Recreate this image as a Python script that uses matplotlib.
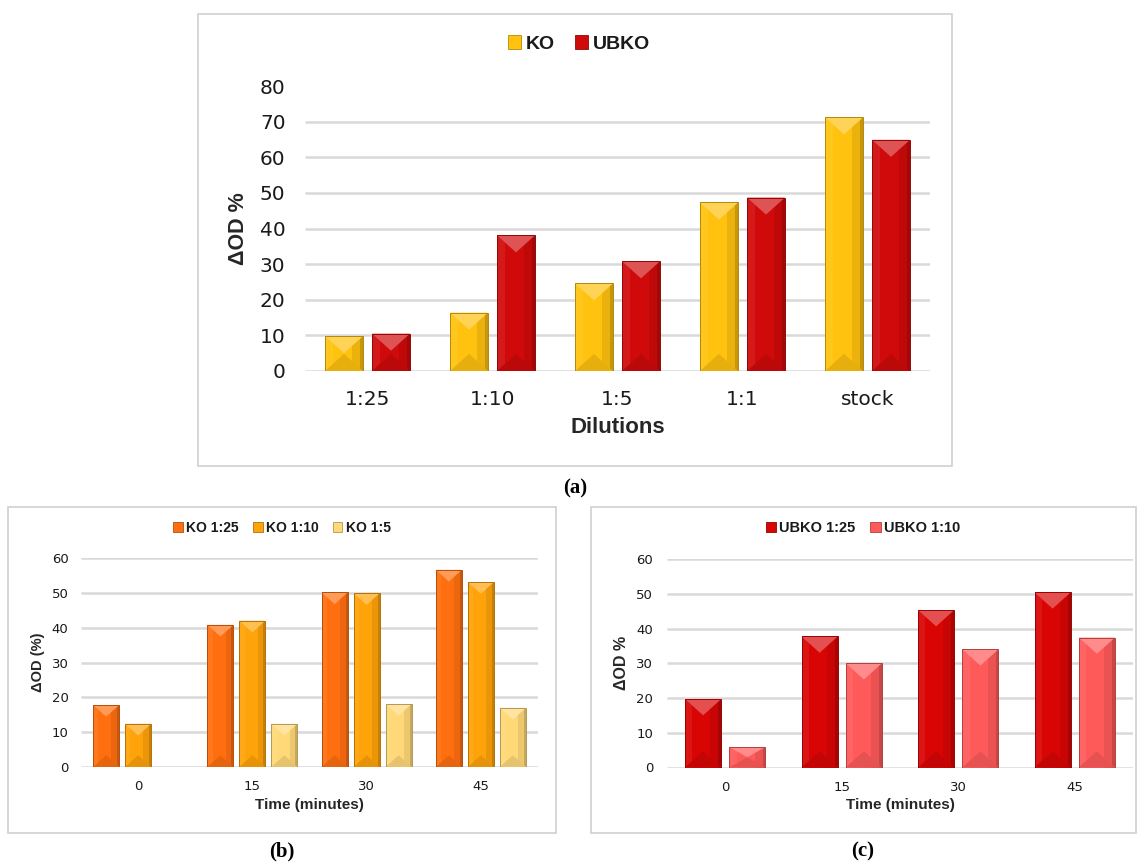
import matplotlib
matplotlib.use('Agg')
import matplotlib.pyplot as plt
import matplotlib.colors as mcolors
from matplotlib.patches import Polygon, Rectangle, Patch
from matplotlib.font_manager import FontProperties
import numpy as np

W, H = 1137, 864

# panel (a): dilutions
dilutions = ['1:25', '1:10', '1:5', '1:1', 'stock']
ko_a = [9.8, 16.4, 24.6, 47.3, 71.2]
ubko_a = [10.5, 38.1, 30.8, 48.7, 64.9]

# panel (b)/(c): time course
times = ['0', '15', '30', '45']
ko_125 = [17.8, 40.8, 50.1, 56.6]
ko_110 = [12.4, 42.0, 49.9, 53.1]
ko_15 = [np.nan, 12.4, 18.1, 17.0]   # no bar at 0 min
ubko_125 = [19.7, 37.7, 45.3, 50.4]
ubko_110 = [5.9, 30.0, 34.0, 37.4]

YELLOW = '#FFC20E'
RED = '#D00A0A'
ORANGE = '#FF6F0F'
AMBER = '#FFA30A'
PALE = '#FFD978'
RED2 = '#D90505'
PINK = '#FF5A5A'

GRID = '#D9D9D9'
TICK_FONT = 'DejaVu Sans'
LABEL_FONT = 'Liberation Sans'


def fx(px):
    return px / W


def fy(py):
    return 1 - py / H


def shade(c, f):
    rgb = np.array(mcolors.to_rgb(c))
    if f > 0:
        rgb = rgb + (1 - rgb) * f
    else:
        rgb = rgb * (1 + f)
    return tuple(np.clip(rgb, 0, 1))


# fake the excel "bevel" look: light top triangle, darker right edge
def bevel(ax, bars, color):
    bb = ax.get_window_extent()
    x0, x1 = ax.get_xlim()
    y0, y1 = ax.get_ylim()
    sx = bb.width / (x1 - x0)
    sy = bb.height / (y1 - y0)
    for r in bars:
        h = r.get_height()
        if not np.isfinite(h) or h <= 0:
            continue
        x, w = r.get_x(), r.get_width()
        # side bands
        ax.add_patch(Rectangle((x, 0), 0.2 * w, h, fc=shade(color, 0.06), lw=0, zorder=3))
        ax.add_patch(Rectangle((x + 0.7 * w, 0), 0.3 * w, h, fc=shade(color, -0.08), lw=0, zorder=3))
        ax.add_patch(Rectangle((x + 0.92 * w, 0), 0.08 * w, h, fc=shade(color, -0.22), lw=0, zorder=3))
        # top / bottom triangles
        d = min(0.45 * w * sx, 0.5 * h * sy) / sy
        ax.add_patch(Polygon([(x, h), (x + w, h), (x + w / 2, h - d)], closed=True,
                             fc=shade(color, 0.3), lw=0, zorder=3))
        ax.add_patch(Polygon([(x, 0), (x + w, 0), (x + w / 2, d)], closed=True,
                             fc=shade(color, -0.1), lw=0, zorder=3))
        ax.add_patch(Rectangle((x, 0), w, h, fill=False, ec=shade(color, -0.3), lw=0.7, zorder=4))


def frame(x0, y0, x1, y1):
    fig.add_artist(Rectangle((fx(x0), fy(y1)), (x1 - x0) / W, (y1 - y0) / H,
                             transform=fig.transFigure, fill=False, ec='#D0D0D0', lw=1.2))


def make_axes(left, top, right, bottom):
    ax = fig.add_axes([fx(left), fy(bottom), (right - left) / W, (bottom - top) / H])
    for s in ax.spines.values():
        s.set_visible(False)
    ax.tick_params(length=0)
    ax.set_axisbelow(True)
    return ax


def grouped(ax, cats, series, colors, width, step, ymax, ystep, tsize, pad, draw_top=True):
    n = len(series)
    x = np.arange(len(cats))
    ax.set_xlim(-0.5, len(cats) - 0.5)
    ax.set_ylim(0, ymax)
    yt = np.arange(0, ymax + 1, ystep)
    ax.set_yticks(yt)
    gl = yt if draw_top else yt[:-1]
    ax.hlines(gl, -0.5, len(cats) - 0.5, colors=GRID, lw=1.8, zorder=1)
    ax.set_xticks(x)
    ax.set_xticklabels(cats)
    for lab in ax.get_xticklabels() + ax.get_yticklabels():
        lab.set_fontfamily(TICK_FONT)
        lab.set_fontsize(tsize)
        lab.set_color('#1a1a1a')
    ax.tick_params(axis='both', pad=pad)
    for i, (vals, c) in enumerate(zip(series, colors)):
        off = (i - (n - 1) / 2) * step
        bars = ax.bar(x + off, vals, width, color=c, zorder=2, lw=0)
        bevel(ax, bars, c)


fig = plt.figure(figsize=(W / 100, H / 100), dpi=100)
fig.patch.set_facecolor('white')

# ---------- (a) ----------
frame(198, 14, 952, 466)
ax_a = make_axes(305, 86, 930, 371)
grouped(ax_a, dilutions, [ko_a, ubko_a], [YELLOW, RED], 0.304, 0.376, 80, 10, 14.5, 14, draw_top=False)
ax_a.set_xlabel('Dilutions', fontfamily=LABEL_FONT, fontweight='bold', fontsize=16, color='#262626', va='center')
ax_a.xaxis.set_label_coords(0.5, (371 - 427.5) / 285)
ax_a.set_ylabel('ΔOD %', fontfamily=LABEL_FONT, fontweight='bold', fontsize=15.5, color='#262626', va='center')
ax_a.yaxis.set_label_coords((238 - 305) / 625, 0.5)

# ---------- (b) ----------
frame(8, 507, 556, 833)
ax_b = make_axes(81, 558, 538, 767)
grouped(ax_b, times, [ko_125, ko_110, ko_15], [ORANGE, AMBER, PALE], 0.228, 0.28, 60, 10, 9.5, 9)
ax_b.set_xlabel('Time (minutes)', fontfamily=LABEL_FONT, fontweight='bold', fontsize=11, color='#262626', va='center')
ax_b.xaxis.set_label_coords(0.5, (767 - 805) / 209)
ax_b.set_ylabel('ΔOD (%)', fontfamily=LABEL_FONT, fontweight='bold', fontsize=10.5, color='#262626', va='center')
ax_b.yaxis.set_label_coords((38 - 81) / 457, 0.5)

# ---------- (c) ----------
frame(591, 507, 1136, 833)
ax_c = make_axes(667, 559, 1133, 767.5)
grouped(ax_c, times, [ubko_125, ubko_110], [RED2, PINK], 0.31, 0.38, 60, 10, 9.5, 10)
ax_c.set_xlabel('Time (minutes)', fontfamily=LABEL_FONT, fontweight='bold', fontsize=11, color='#262626', va='center')
ax_c.xaxis.set_label_coords(0.5, (767.5 - 805) / 208.5)
ax_c.set_ylabel('ΔOD %', fontfamily=LABEL_FONT, fontweight='bold', fontsize=11.5, color='#262626', va='center')
ax_c.yaxis.set_label_coords((622 - 667) / 466, 0.5)


# legends
def legend(labels, colors, cx, cy, size):
    handles = [Patch(fc=c, ec=shade(c, -0.3), lw=0.6) for c in colors]
    fig.legend(handles, labels, loc='center', bbox_to_anchor=(fx(cx), fy(cy)), ncol=len(labels),
               frameon=False, prop=FontProperties(family=LABEL_FONT, weight='bold', size=size),
               handlelength=0.7, handleheight=0.7, handletextpad=0.25, columnspacing=1.0,
               labelcolor='#1a1a1a')


legend(['KO', 'UBKO'], [YELLOW, RED], 579, 44, 14)
legend(['KO 1:25', 'KO 1:10', 'KO 1:5'], [ORANGE, AMBER, PALE], 282, 528, 10)
legend(['UBKO 1:25', 'UBKO 1:10'], [RED2, PINK], 863, 528, 10.5)

# captions
for txt, cx, cy in [('(a)', 575, 488), ('(b)', 282, 851), ('(c)', 863, 851)]:
    fig.text(fx(cx), fy(cy), txt, family='Liberation Serif', weight='bold', size=15,
             ha='center', va='center', color='black')

fig.savefig('out.png', dpi=100)
